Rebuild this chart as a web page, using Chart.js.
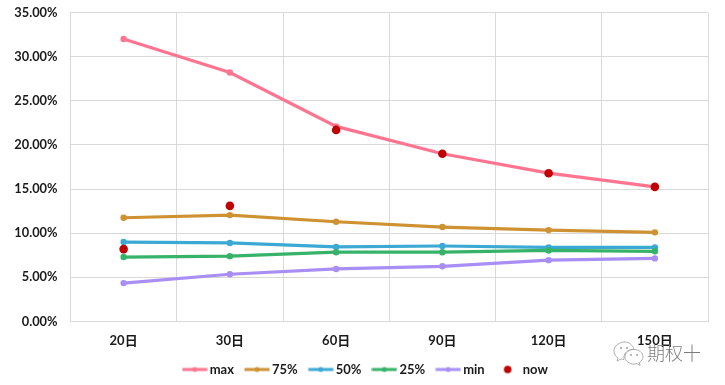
<!DOCTYPE html>
<html>
<head>
<meta charset="utf-8">
<script src="https://cdn.jsdelivr.net/npm/chart.js@4"></script>
<style>
  html, body { margin: 0; padding: 0; background: #fff; }
  #wrap { position: relative; width: 725px; height: 385px; overflow: hidden; }
  #mark { position: absolute; left: 647px; top: 339px; color: #7d7d7d; font: 300 18px "Noto Sans CJK SC", sans-serif; line-height: 26px; letter-spacing: 0; }
  #icon { position: absolute; left: 612px; top: 340px; }
</style>
</head>
<body>
<div id="wrap">
  <canvas id="chart" width="725" height="385"></canvas>
  <svg id="icon" width="34" height="26" viewBox="0 0 34 26">
    <path d="M13 2C7 2 2 6 2 11c0 3 1.500 5 4 7l-1 3 4-2c1 .3 2 .4 3 .4C11 13 16 9 22 9.500 21 5 17 2 13 2z" fill="#fff" stroke="#9a9a9a" stroke-width="0.8"/>
    <path d="M22 9.500c-5 0-9 3.300-9 7.300s4 7.300 9 7.300c1 0 2-.2 3-.5l3 1.700-.8-2.800c2.300-1.300 3.800-3.400 3.800-5.700 0-4-4-7.300-9-7.300z" fill="#fff" stroke="#9a9a9a" stroke-width="0.8"/>
    <circle cx="9" cy="8" r="1" fill="#9a9a9a"/><circle cx="15" cy="8" r="1" fill="#9a9a9a"/>
    <circle cx="19" cy="15" r="0.9" fill="#9a9a9a"/><circle cx="25" cy="15" r="0.9" fill="#9a9a9a"/>
  </svg>
  <div id="mark">期权十</div>
</div>
<script>
const categories = ['20日', '30日', '60日', '90日', '120日', '150日'];
const yTicks = [0, 5, 10, 15, 20, 25, 30, 35];

const maxValues = [32.0, 28.2, 22.1, 19.0, 16.8, 15.25];
const p75Values = [11.75, 12.05, 11.3, 10.7, 10.35, 10.1];
const p50Values = [9.0, 8.9, 8.45, 8.55, 8.4, 8.4];
const p25Values = [7.3, 7.4, 7.85, 7.85, 8.05, 7.95];
const minValues = [4.35, 5.35, 5.95, 6.25, 6.95, 7.15];
const nowValues = [8.2, 13.1, 21.7, 19.0, 16.8, 15.25];

const colors = ['#FF7590', '#CE9233', '#3BA9D3', '#36B368', '#A98EF5', '#C00000'];
const fontFamily = 'Lato, "Noto Sans CJK SC", sans-serif';

// legend sample: short thick line with a small dot, or just the dot for "now"
function legendSample(color, lineOnly) {
  const c = document.createElement('canvas');
  c.width = 26;
  c.height = 10;
  const g = c.getContext('2d');
  g.fillStyle = color;
  if (lineOnly) {
    g.fillRect(0.5, 3.5, 25, 3);
    g.beginPath();
    g.arc(13, 5, 2.5, 0, Math.PI * 2);
    g.fill();
  } else {
    g.beginPath();
    g.arc(13, 5, 3.8, 0, Math.PI * 2);
    g.fill();
  }
  return c;
}

function lineSet(label, data, i) {
  return {
    label: label,
    data: data,
    borderColor: colors[i],
    backgroundColor: colors[i],
    borderWidth: 3.2,
    pointRadius: 3.2,
    pointHoverRadius: 3.2,
    pointBorderWidth: 0,
    tension: 0,
    order: 6 - i
  };
}

// the legend is centred on the whole picture, not on the space left of the right padding
const shiftLegend = {
  id: 'shiftLegend',
  afterLayout(chart) {
    chart.legend.left += 13;
    chart.legend.right += 13;
  }
};

new Chart(document.getElementById('chart'), {
  type: 'line',
  data: {
    labels: categories,
    datasets: [
      lineSet('max', maxValues, 0),
      lineSet('75%', p75Values, 1),
      lineSet('50%', p50Values, 2),
      lineSet('25%', p25Values, 3),
      lineSet('min', minValues, 4),
      {
        label: 'now',
        data: nowValues,
        showLine: false,
        borderColor: colors[5],
        backgroundColor: colors[5],
        pointRadius: 4.3,
        pointBorderWidth: 0,
        order: 0
      }
    ]
  },
  plugins: [shiftLegend],
  options: {
    responsive: false,
    animation: false,
    layout: { padding: { left: 0, right: 17, top: 12.5, bottom: -1 } },
    scales: {
      x: {
        offset: true,
        afterFit: function (scale) { scale.height = 27; },
        grid: { color: '#D9D9D9', offset: true, drawTicks: false },
        border: { color: '#D9D9D9' },
        ticks: { color: '#1a1a1a', font: { family: fontFamily, size: 13, weight: 'bold' }, padding: 12, maxRotation: 0 }
      },
      y: {
        min: 0,
        max: 35,
        afterFit: function (scale) {
          scale.width = 70.5;
          scale.paddingTop = 0;
          scale.paddingBottom = 0;
        },
        afterBuildTicks: function (scale) { scale.ticks = yTicks.map(v => ({ value: v })); },
        grid: { color: '#D9D9D9', drawTicks: false },
        border: { color: '#D9D9D9' },
        ticks: {
          color: '#1a1a1a',
          font: { family: fontFamily, size: 12.8, weight: 'bold' },
          padding: 13,
          callback: v => v.toFixed(2) + '%'
        }
      }
    },
    plugins: {
      tooltip: { enabled: false },
      legend: {
        position: 'bottom',
        labels: {
          usePointStyle: true,
          pointStyleWidth: 17,
          boxHeight: 10,
          padding: 14.5,
          color: '#1a1a1a',
          font: { family: fontFamily, size: 13, weight: 'bold' },
          generateLabels: chart => chart.data.datasets.map((d, i) => ({
            text: d.label,
            fontColor: '#1a1a1a',
            pointStyle: legendSample(colors[i], i < 5),
            datasetIndex: i,
            lineWidth: 0,
            strokeStyle: 'transparent',
            fillStyle: colors[i]
          }))
        }
      }
    }
  }
});
</script>
</body>
</html>
